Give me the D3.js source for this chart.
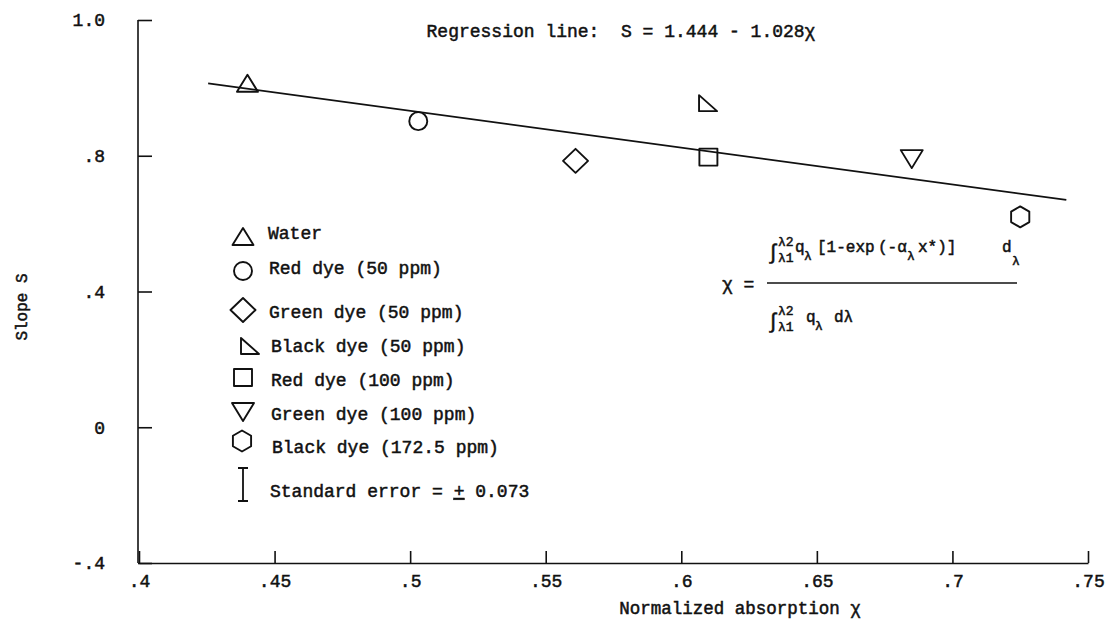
<!DOCTYPE html>
<html>
    <head>
        <meta http-equiv="Content-Type" content="text/html; charset=UTF-8">
        <title>Slope vs normalized absorption</title>
        <script src="https://d3js.org/d3.v7.min.js"></script>
        <style>
            body { margin: 0; background: #fff; }
            svg text { font-family: "Liberation Mono", "DejaVu Sans Mono", monospace; fill: #111; stroke: #111; stroke-width: 0.5px; }
        </style>
    </head>
    <body>
        <div id="myGraph"></div>

        <script>
            // data
            var seriesNames = ["Water", "Red dye (50 ppm)", "Green dye (50 ppm)", "Black dye (50 ppm)",
                               "Red dye (100 ppm)", "Green dye (100 ppm)", "Black dye (172.5 ppm)"]
            var absorption = [0.440, 0.503, 0.561, 0.6095, 0.610, 0.685, 0.725]
            var slope = [1.012, 0.902, 0.785, 0.955, 0.796, 0.793, 0.620]
            var regressionX = [0.4255, 0.742]
            var regressionS = [1.013, 0.670]
            var xTickValues = [0.4, 0.45, 0.5, 0.55, 0.6, 0.65, 0.7, 0.75]
            var xTickLabels = [".4", ".45", ".5", ".55", ".6", ".65", ".7", ".75"]
            var yTickValues = [-0.4, 0, 0.4, 0.8, 1.2]
            var yTickLabels = ["-.4", "0", ".4", ".8", "1.0"]
            var standardError = "0.073"

            var width = 1118
            var height = 621

            var svg = d3.select("#myGraph")
              .append("svg")
                .attr("width", width)
                .attr("height", height)

            var x = d3.scaleLinear().domain([0.4, 0.75]).range([139, 1088])
            var y = d3.scaleLinear().domain([-0.4, 1.2]).range([563, 20])

            // marker shapes, centred on 0,0
            function hexagon(r) {
                var pts = d3.range(6).map(function(i) {
                    var a = (-90 + i * 60) * Math.PI / 180
                    return [r * Math.cos(a), r * Math.sin(a)]
                })
                return "M" + pts.join("L") + "Z"
            }
            var shapes = [
                "M0,-9L10.5,8L-10.5,8Z",               // triangle up
                "M9,0A9,9 0 1,1 -9,0A9,9 0 1,1 9,0Z",   // circle
                "M0,-12L12.5,0L0,12L-12.5,0Z",          // diamond
                "M-8,-8L-8,8L10,8Z",                    // right triangle
                "M-9,-8.5L9,-8.5L9,8.5L-9,8.5Z",        // square
                "M-11,-8L11,-8L0,10Z",                  // triangle down
                hexagon(10.5)                            // hexagon
            ]

            // axes
            var yAxis = d3.axisLeft(y)
                .tickValues(yTickValues)
                .tickFormat(function(d, i) { return yTickLabels[i] })
                .tickSizeInner(-14)
                .tickSizeOuter(0)
                .tickPadding(33)
            var xAxis = d3.axisBottom(x)
                .tickValues(xTickValues)
                .tickFormat(function(d, i) { return xTickLabels[i] })
                .tickSizeInner(-12)
                .tickSizeOuter(0)
                .tickPadding(11)

            var gy = svg.append("g").attr("transform", "translate(138,0)").call(yAxis)
            var gx = svg.append("g").attr("transform", "translate(0,563)").call(xAxis)
            gy.selectAll("text").style("font-size", "18px")
            gy.select(".domain").attr("d", "M0," + y(1.2) + "V" + y(-0.4))
            gx.selectAll("text").style("font-size", "18px").attr("dy", "0.72em")
            svg.selectAll(".domain, .tick line").attr("stroke", "#111").attr("stroke-width", 1.6)

            // axis titles
            svg.append("text")
                .attr("transform", "translate(27,307) rotate(-90)")
                .attr("text-anchor", "middle")
                .style("font-size", "16px")
                .text("Slope S")
            svg.append("text")
                .attr("x", 740).attr("y", 614)
                .attr("text-anchor", "middle")
                .style("font-size", "17.5px")
                .text("Normalized absorption χ")

            svg.append("text")
                .attr("x", 621).attr("y", 37)
                .attr("text-anchor", "middle")
                .style("font-size", "18px")
                .attr("xml:space", "preserve")
                .text("Regression line:  S = 1.444 - 1.028χ")

            // regression line
            svg.append("path")
                .datum(d3.zip(regressionX, regressionS))
                .attr("fill", "none")
                .attr("stroke", "#111")
                .attr("stroke-width", 1.8)
                .attr("d", d3.line().x(function(d) { return x(d[0]) }).y(function(d) { return y(d[1]) }))

            // data points
            svg.append("g")
                .selectAll("path")
                .data(seriesNames)
                .enter()
                .append("path")
                .attr("d", function(d, i) { return shapes[i] })
                .attr("transform", function(d, i) { return "translate(" + x(absorption[i]) + "," + y(slope[i]) + ")" })
                .attr("fill", "none")
                .attr("stroke", "#111")
                .attr("stroke-width", 1.9)
                .attr("stroke-linejoin", "round")

            // legend
            var legendSymY = [237, 271, 310, 346, 377.5, 411, 441]
            var legendSymX = [243, 243, 243, 249, 243, 243, 242]
            var legendTextY = [239, 274, 318, 352, 386, 420, 453]
            var legendTextX = [268, 269, 269, 271, 271, 271, 272]
            var legend = svg.append("g")
            legend.selectAll("path")
                .data(seriesNames)
                .enter()
                .append("path")
                .attr("d", function(d, i) { return shapes[i] })
                .attr("transform", function(d, i) { return "translate(" + legendSymX[i] + "," + legendSymY[i] + ")" })
                .attr("fill", "none")
                .attr("stroke", "#111")
                .attr("stroke-width", 1.9)
                .attr("stroke-linejoin", "round")
            legend.selectAll("text")
                .data(seriesNames)
                .enter()
                .append("text")
                .attr("x", function(d, i) { return legendTextX[i] })
                .attr("y", function(d, i) { return legendTextY[i] })
                .style("font-size", "18px")
                .text(function(d) { return d })

            // standard error bar in legend
            legend.append("path")
                .attr("d", "M243,468V501M238,468H248M238,501H248")
                .attr("fill", "none")
                .attr("stroke", "#111")
                .attr("stroke-width", 1.8)
            var se = legend.append("text")
                .attr("x", 270).attr("y", 497)
                .style("font-size", "18px")
                .attr("xml:space", "preserve")
            se.append("tspan").text("Standard error = ")
            se.append("tspan").style("text-decoration", "underline").text("+")
            se.append("tspan").text(" " + standardError)

            // definition of chi
            var f = svg.append("g")
            f.append("text").attr("x", 722).attr("y", 290).style("font-size", "18px").text("χ =")
            f.append("line")
                .attr("x1", 767).attr("x2", 1017).attr("y1", 283).attr("y2", 283)
                .attr("stroke", "#111").attr("stroke-width", 1.4)

            function piece(px, py, size, txt) {
                f.append("text").attr("x", px).attr("y", py).style("font-size", size + "px")
                    .attr("xml:space", "preserve").text(txt)
            }
            // numerator
            piece(767, 259, 21, "∫")
            piece(778, 246, 13, "λ2")
            piece(778, 262, 13, "λ1")
            piece(795, 252, 16, "q")
            piece(804, 260, 13, "λ")
            piece(817, 252, 16, "[1-exp")
            piece(878, 252, 16, "(-α")
            piece(907, 260, 13, "λ")
            piece(918, 252, 16, "x*)]")
            piece(1002, 252, 16, "d")
            piece(1012, 265, 13, "λ")
            // denominator
            piece(767, 328, 21, "∫")
            piece(778, 315, 13, "λ2")
            piece(778, 331, 13, "λ1")
            piece(806, 322, 16, "q")
            piece(815, 330, 13, "λ")
            piece(834, 322, 16, "dλ")
        </script>
    </body>
</html>
